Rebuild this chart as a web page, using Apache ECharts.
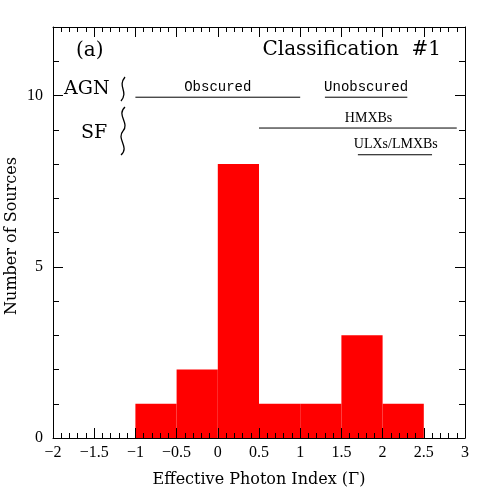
<!DOCTYPE html>
<html>
<head>
<meta charset="utf-8">
<script src="https://cdn.jsdelivr.net/npm/echarts@6/dist/echarts.min.js"></script>
<style>
  html, body { margin: 0; padding: 0; background: #fff; }
  #main { width: 491px; height: 491px; }
</style>
</head>
<body>
<div id="main"></div>
<script>
// histogram bins
var binStart = [-1, -0.5, 0, 0.5, 1, 1.5, 2];
var binEnd = [-0.5, 0, 0.5, 1, 1.5, 2, 2.5];
var counts = [1, 2, 8, 1, 1, 3, 1];

// classification ranges drawn above the bars
var rangeNames = ['Obscured', 'Unobscured', 'HMXBs', 'ULXs/LMXBs'];
var rangeStart = [-1, 1.3, 0.5, 1.7];
var rangeEnd = [1, 2.3, 2.9, 2.6];
var rangeY = [9.95, 9.95, 9.05, 8.27];
var rangeLabelX = [0, 1.8, 1.83, 2.16];
var rangeFont = ['Liberation Mono', 'Liberation Mono', 'Liberation Serif', 'Liberation Serif'];

var yTickLabels = [0, 5, 10];

var myChart = echarts.init(document.getElementById('main'));

var binData = binStart.map(function (s, i) { return [s, binEnd[i], counts[i]]; });
var rangeData = rangeNames.map(function (n, i) {
  return [rangeStart[i], rangeEnd[i], rangeY[i], rangeLabelX[i], n, rangeFont[i]];
});

var black = '#000';
var serif = 'DejaVu Serif';

function minus(v) { return String(v).replace('-', '\u2212'); }

// both grids share the same box, no auto shrinking
var gridBox = { left: 53, right: 26, top: 27, bottom: 53, containLabel: false, outerBoundsMode: 'none' };
var line = { onZero: false, lineStyle: { color: black, width: 1 } };

var option = {
  animation: false,
  grid: [
    Object.assign({}, gridBox),
    Object.assign({}, gridBox)
  ],
  xAxis: [
    {
      gridIndex: 0, type: 'value', position: 'bottom', min: -2, max: 3, interval: 0.5, z: 5,
      axisLine: line,
      axisTick: { inside: true, length: 10, lineStyle: { color: black } },
      minorTick: { show: true, splitNumber: 5, length: 5, lineStyle: { color: black } },
      splitLine: { show: false },
      axisLabel: { color: black, fontFamily: 'Liberation Serif', fontSize: 16, margin: 7, formatter: minus },
      name: 'Effective Photon Index (\u0393)', nameLocation: 'middle', nameGap: 34,
      nameTextStyle: { color: black, fontFamily: serif, fontSize: 16 }
    },
    {
      gridIndex: 0, type: 'value', position: 'top', min: -2, max: 3, interval: 0.5, z: 5,
      axisLine: line,
      axisTick: { inside: true, length: 10, lineStyle: { color: black } },
      minorTick: { show: true, splitNumber: 5, length: 5, lineStyle: { color: black } },
      splitLine: { show: false },
      axisLabel: { show: false }
    },
    { gridIndex: 1, type: 'value', min: -2, max: 3, show: false }
  ],
  yAxis: [
    {
      gridIndex: 0, type: 'value', position: 'left', min: 0, max: 12, interval: 1, z: 5,
      axisLine: Object.assign({ show: true }, line),
      axisTick: { show: true, inside: true, length: 6, lineStyle: { color: black } },
      splitLine: { show: false },
      axisLabel: { show: false }
    },
    {
      gridIndex: 0, type: 'value', position: 'right', min: 0, max: 12, interval: 1, z: 5,
      axisLine: Object.assign({ show: true }, line),
      axisTick: { show: true, inside: true, length: 6, lineStyle: { color: black } },
      splitLine: { show: false },
      axisLabel: { show: false }
    },
    {
      gridIndex: 1, type: 'value', position: 'left', min: 0, max: 12, interval: 5, z: 5,
      axisLine: { show: false, onZero: false },
      axisTick: { show: true, inside: true, length: 10, lineStyle: { color: black } },
      splitLine: { show: false },
      axisLabel: {
        color: black, fontFamily: 'Liberation Serif', fontSize: 16, margin: 10,
        formatter: function (v) { return yTickLabels.indexOf(v) >= 0 ? String(v) : ''; }
      }
    },
    {
      gridIndex: 1, type: 'value', position: 'right', min: 0, max: 12, interval: 5, z: 5,
      axisLine: { show: false, onZero: false },
      axisTick: { show: true, inside: true, length: 10, lineStyle: { color: black } },
      splitLine: { show: false },
      axisLabel: { show: false }
    }
  ],
  series: [
    {
      type: 'custom',
      xAxisIndex: 0, yAxisIndex: 0,
      data: binData,
      renderItem: function (params, api) {
        var p0 = api.coord([api.value(0), api.value(2)]);
        var p1 = api.coord([api.value(1), 0]);
        return {
          type: 'rect',
          shape: { x: p0[0], y: p0[1], width: p1[0] - p0[0], height: p1[1] - p0[1] },
          style: { fill: '#ff0000' }
        };
      }
    },
    {
      type: 'custom',
      xAxisIndex: 0, yAxisIndex: 0,
      data: rangeData,
      renderItem: function (params, api) {
        var d = rangeData[params.dataIndex];
        var a = api.coord([d[0], d[2]]);
        var b = api.coord([d[1], d[2]]);
        var t = api.coord([d[3], d[2]]);
        return {
          type: 'group',
          children: [
            { type: 'line', shape: { x1: a[0], y1: a[1], x2: b[0], y2: b[1] }, style: { stroke: black, lineWidth: 1 } },
            {
              type: 'text',
              style: {
                x: t[0], y: t[1] - 10, text: d[4], align: 'center', verticalAlign: 'middle',
                fill: black, font: '14px "' + d[5] + '"'
              }
            }
          ]
        };
      }
    }
  ],
  graphic: [
    // y axis title
    {
      type: 'text', x: 12, y: 236, rotation: Math.PI / 2,
      style: { text: 'Number of Sources', fill: black, font: '16px "DejaVu Serif"', align: 'center', verticalAlign: 'middle' }
    },
    { type: 'text', left: 76, top: 41, style: { text: '(a)', fill: black, font: '20px "DejaVu Serif"' } },
    { type: 'text', right: 50, top: 40, style: { text: 'Classification  #1', fill: black, font: '20px "DejaVu Serif"' } },
    { type: 'text', left: 64, top: 80, style: { text: 'AGN', fill: black, font: '19px "DejaVu Serif"' } },
    { type: 'text', left: 81, top: 124, style: { text: 'SF', fill: black, font: '19px "DejaVu Serif"' } },
    // wavy braces
    {
      type: 'bezierCurve',
      shape: { x1: 125, y1: 77, cpx1: 117, cpy1: 87, cpx2: 129, cpy2: 91, x2: 121, y2: 101 },
      style: { fill: 'none', stroke: black, lineWidth: 1.3 }
    },
    {
      type: 'bezierCurve',
      shape: { x1: 125, y1: 107, cpx1: 116, cpy1: 115, cpx2: 130, cpy2: 123, x2: 123, y2: 131 },
      style: { fill: 'none', stroke: black, lineWidth: 1.3 }
    },
    {
      type: 'bezierCurve',
      shape: { x1: 123, y1: 131, cpx1: 116, cpy1: 139, cpx2: 130, cpy2: 147, x2: 121, y2: 155 },
      style: { fill: 'none', stroke: black, lineWidth: 1.3 }
    }
  ]
};

myChart.setOption(option);
</script>
</body>
</html>
